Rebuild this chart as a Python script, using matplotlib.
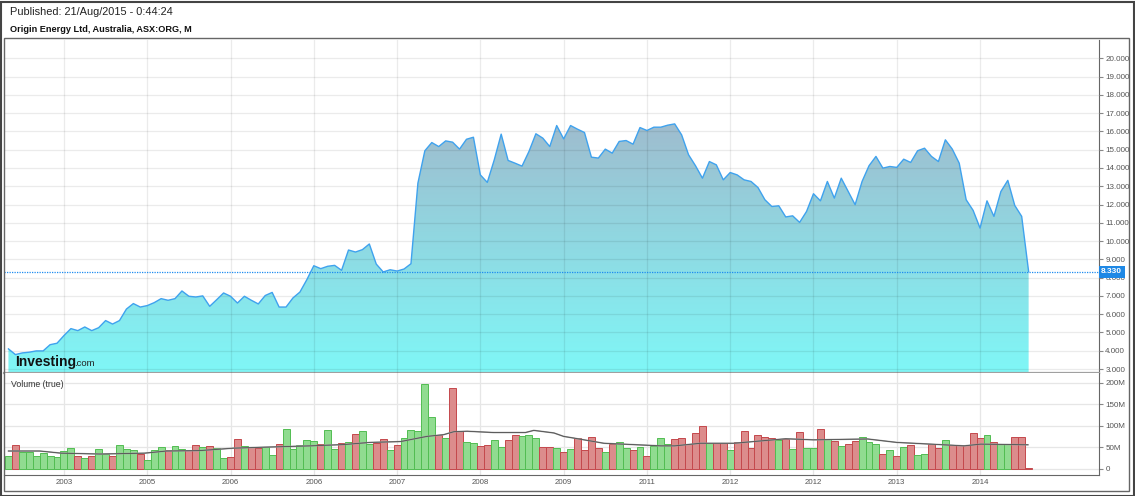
import numpy as np
import matplotlib.pyplot as plt
from matplotlib.patches import Rectangle
import matplotlib.transforms as mtransforms

plt.rcParams['font.family'] = ['Liberation Sans', 'DejaVu Sans']

# monthly close (AUD), one value per month
price = [4.10, 3.79, 3.88, 3.92, 3.99, 3.99, 4.33, 4.41, 4.83, 5.21,
         5.10, 5.30, 5.10, 5.26, 5.65, 5.46, 5.65, 6.28, 6.58, 6.39,
         6.47, 6.63, 6.85, 6.76, 6.85, 7.27, 6.98, 6.94, 7.00, 6.43,
         6.79, 7.16, 6.98, 6.61, 6.98, 6.76, 6.56, 7.02, 7.19, 6.39,
         6.39, 6.89, 7.21, 7.89, 8.65, 8.49, 8.62, 8.67, 8.40, 9.51,
         9.40, 9.53, 9.84, 8.74, 8.31, 8.43, 8.36, 8.47, 8.76, 13.17,
         14.94, 15.39, 15.17, 15.48, 15.41, 15.03, 15.57, 15.68, 13.62, 13.21,
         14.44, 15.85, 14.41, 14.26, 14.10, 14.90, 15.87, 15.63, 15.17, 16.32,
         15.59, 16.32, 16.12, 15.94, 14.59, 14.54, 15.03, 14.81, 15.45, 15.50,
         15.30, 16.21, 16.05, 16.23, 16.23, 16.34, 16.41, 15.81, 14.72, 14.12,
         13.44, 14.35, 14.17, 13.35, 13.75, 13.62, 13.35, 13.26, 12.93, 12.26,
         11.89, 11.93, 11.32, 11.38, 11.02, 11.62, 12.59, 12.20, 13.26, 12.35,
         13.44, 12.71, 11.99, 13.26, 14.12, 14.63, 13.99, 14.08, 14.03, 14.48,
         14.30, 14.94, 15.08, 14.63, 14.35, 15.54, 15.03, 14.26, 12.26, 11.68,
         10.71, 12.20, 11.35, 12.71, 13.32, 11.95, 11.35, 8.33]

# monthly volume (millions)
volume = [29.7, 55.5, 39.8, 39.8, 29.7, 35.9, 30.5, 26.6, 40.6, 48.4,
          30.5, 25.8, 30.5, 45.3, 34.4, 29.7, 54.7, 45.3, 43.0, 34.4,
          21.1, 43.7, 51.5, 43.7, 52.3, 45.3, 43.0, 54.7, 51.5, 52.3,
          48.4, 24.2, 26.6, 69.5, 52.3, 50.0, 48.4, 51.5, 32.0, 57.0,
          92.2, 46.1, 54.7, 66.4, 64.8, 57.0, 90.6, 46.1, 59.4, 61.7,
          80.4, 88.3, 56.2, 60.1, 69.5, 43.7, 55.5, 71.1, 90.6, 86.7,
          197.6, 121.1, 78.1, 70.3, 188.2, 87.5, 61.7, 60.1, 53.1, 55.5,
          67.2, 49.2, 67.2, 78.1, 75.0, 78.9, 71.1, 50.0, 50.0, 47.6,
          39.1, 45.3, 71.1, 43.7, 73.4, 48.4, 39.1, 56.2, 60.9, 48.4,
          43.7, 50.0, 29.7, 53.1, 70.3, 57.8, 69.5, 71.1, 56.2, 82.8,
          100.0, 59.4, 59.4, 59.4, 43.7, 60.9, 88.3, 48.4, 78.9, 73.4,
          71.9, 66.4, 69.5, 46.1, 85.9, 48.4, 48.4, 92.2, 69.5, 64.8,
          52.3, 57.0, 64.8, 74.2, 60.9, 57.0, 35.1, 43.7, 30.5, 50.0,
          55.5, 32.0, 35.1, 57.8, 48.4, 67.2, 55.5, 53.9, 53.9, 83.6,
          71.9, 78.9, 61.7, 57.0, 57.0, 74.2, 74.2, 0.5]

# bar direction per month: g = up, r = down
direction = ("grgggggggg" "rgrggrgggr" "gggrggrrgr" "ggrrgrrggr"
             "gggggrggrg" "rggrrgrggg" "ggrgrrggrr" "ggrrgggrrg"
             "rgrrrrgrgg" "rgrgggrrrr" "rgrrgrrrrr" "rgrgrggrgr"
             "grrgggrgrg" "rggrrgrrrr" "rgrggrrr")

# volume moving average, read at a few points
ma_idx = [0, 4.5, 7.6, 13.2, 19.6, 22.8, 27.6, 32.4, 37, 43.5, 48.3, 52.1,
          56.5, 60.3, 62.7, 64.2, 66.1, 69.9, 74.5, 75.7, 78.6, 80, 81.5,
          85.8, 90.6, 94, 96, 99.7, 104.5, 112, 116, 123.8, 128, 132.9,
          137.7, 140.1, 146.9]
ma_val = [41, 41, 36, 34, 36, 41, 42, 47.6, 50, 53, 56, 61,
          63, 75, 79, 86, 87, 84, 84, 89, 83, 75, 71,
          59, 55.5, 53, 53, 59, 59, 69.5, 67, 69, 61, 57,
          53, 57, 55.5]

year_pos = [8, 20, 32, 44, 56, 68, 80, 92, 104, 116, 128, 140]
year_lbl = ['2003', '2005', '2006', '2006', '2007', '2008', '2009',
            '2011', '2012', '2012', '2013', '2014']

last = 8.33
W, H = 1135, 496

fig = plt.figure(figsize=(W / 100, H / 100), dpi=100)
ax = fig.add_axes([4 / W, 1 - 373.3 / H, 1095 / W, (373.3 - 40) / H])
axv = fig.add_axes([4 / W, 1 - 475 / H, 1095 / W, (475 - 373.3) / H], sharex=ax)

x = np.arange(len(price))
xlim = (-0.64, 157.14)
ylo, yhi = 2.765, 21.0

# gradient area under the price line
poly = ax.fill_between(x, price, ylo, color='none', lw=0)
grad_top = np.array([0x9F, 0xBC, 0xCE]) / 255
grad_bot = np.array([0x7F, 0xF7, 0xF7]) / 255
t = np.clip((np.linspace(yhi, ylo, 300) - ylo) / (16.5 - ylo), 0, 1)[:, None]
img = grad_bot + (grad_top - grad_bot) * t
im = ax.imshow(img[:, None, :].repeat(2, axis=1), extent=[xlim[0], xlim[1], ylo, yhi],
               aspect='auto', zorder=1, interpolation='bilinear')
im.set_clip_path(poly.get_paths()[0], transform=ax.transData)
ax.plot(x, price, color='#3FA2EE', lw=1.0, zorder=3)

ax.axhline(last, color='#1E8CF0', lw=0.9, ls=(0, (1, 1)), zorder=4)

ax.set_xlim(*xlim)
ax.set_ylim(ylo, yhi)
ax.set_yticks(range(3, 21))
ax.set_yticklabels(['%.3f' % v for v in range(3, 21)])
ax.yaxis.tick_right()
ax.tick_params(axis='y', length=3, color='#888888', labelsize=5.8,
               labelcolor='#555555', pad=1.5, width=0.8)
ax.tick_params(axis='x', length=0, labelbottom=False)
ax.set_xticks(year_pos)
ax.grid(True, color='black', alpha=0.08, lw=0.9, zorder=2)
ax.set_axisbelow(False)
for s in ['left', 'top']:
    ax.spines[s].set_visible(False)
ax.spines['right'].set_color('#666666')
ax.spines['bottom'].set_color('#A0A0A0')
ax.spines['bottom'].set_linewidth(1.6)

tr = mtransforms.blended_transform_factory(ax.transAxes, ax.transData)
ax.text(1.002, last, '8.330', transform=tr, ha='left', va='center',
        color='white', fontsize=6.0, fontweight='bold', zorder=6,
        bbox=dict(boxstyle='square,pad=0.3', fc='#1E88E5', ec='none'))

# volume panel
up_fc, up_ec = '#90DC90', '#52BD52'
dn_fc, dn_ec = '#DC8C8C', '#C4484C'
fcs = [up_fc if d == 'g' else dn_fc for d in direction]
ecs = [up_ec if d == 'g' else dn_ec for d in direction]
axv.bar(x, volume, width=1.0, color=fcs, edgecolor=ecs, lw=0.7, zorder=3)
axv.plot(ma_idx, ma_val, color='#A0A0A0', lw=1.1, zorder=4)
axv.plot(ma_idx, ma_val, color='#505050', lw=0.6, zorder=5)
axv.set_ylim(-14.8, 221.8)
axv.set_yticks([0, 50, 100, 150, 200])
axv.set_yticklabels(['0', '50M', '100M', '150M', '200M'])
axv.yaxis.tick_right()
axv.tick_params(axis='y', length=3, color='#888888', labelsize=5.8,
                labelcolor='#555555', pad=1.5, width=0.8)
axv.set_xticks(year_pos)
axv.set_xticklabels(year_lbl)
axv.tick_params(axis='x', length=0, labelsize=5.7, labelcolor='#555555', pad=3)
axv.grid(True, color='#E6E6E6', lw=0.9, zorder=0)
axv.set_axisbelow(True)
for s in ['left', 'top']:
    axv.spines[s].set_visible(False)
axv.spines['right'].set_color('#666666')
axv.spines['bottom'].set_color('#666666')
axv.text(0.006, 0.93, 'Volume (true)', transform=axv.transAxes, fontsize=6.3,
         color='#333333', ha='left', va='top')

# header
fig.text(10 / W, 1 - 12 / H, 'Published: 21/Aug/2015 - 0:44:24', fontsize=7.9,
         color='#222222', ha='left', va='center')
fig.text(10 / W, 1 - 30 / H, 'Origin Energy Ltd, Australia, ASX:ORG, M', fontsize=6.6,
         fontweight='bold', color='#111111', ha='left', va='center')

# watermark logo
fig.text(15 / W, 1 - 366 / H, 'Investing', fontsize=10, fontweight='bold',
         color='#111111', ha='left', va='baseline')
fig.text(74 / W, 1 - 366 / H, '.com', fontsize=6.8, color='#222222',
         ha='left', va='baseline')

# frames
fig.add_artist(Rectangle((0.5 / W, 0.5 / H), 1133 / W, 494 / H, transform=fig.transFigure,
                         fill=False, ec='#444444', lw=1.5))
fig.add_artist(Rectangle((4 / W, 1 - 491 / H), 1125 / W, 453 / H, transform=fig.transFigure,
                         fill=False, ec='#666666', lw=1.0))

fig.savefig('out.png', dpi=100)
